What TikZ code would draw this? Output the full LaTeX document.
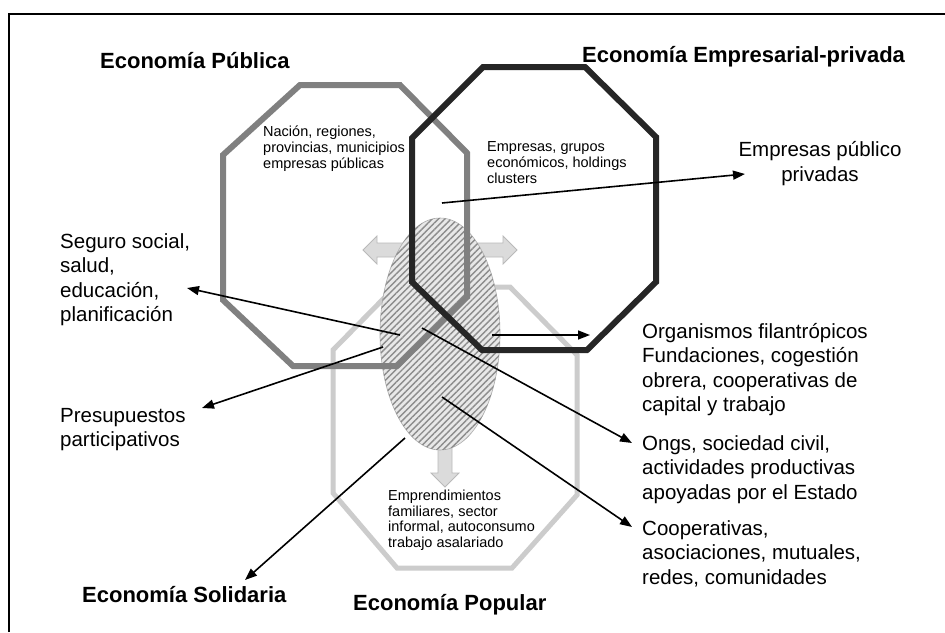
\documentclass[tikz,border=0pt]{standalone}
\usepackage{fontspec}
\setmainfont{Liberation Sans}
\usetikzlibrary{shapes.geometric,arrows.meta,patterns.meta}
\begin{document}
\begin{tikzpicture}[x=1pt,y=-1pt,
  lbl/.style={anchor=north west, inner sep=0pt, align=left, font=\fontsize{20.5}{24.5}\selectfont},
  small/.style={anchor=north west, inner sep=0pt, align=left, font=\fontsize{14.5}{15.8}\selectfont},
  title/.style={anchor=base west, inner sep=0pt, font=\fontsize{22}{26}\selectfont\bfseries},
  conn/.style={line width=1.6pt, -{Triangle[length=12pt,width=9pt]}},
  blockarrow/.style={fill=gray!28, draw=gray!55, line width=0.8pt, line join=miter},
  oct/.style={line join=miter, line width=6pt}
]
\useasboundingbox (0,0) rectangle (945,632);
\fill[white] (0,0) rectangle (945,632);
\draw[line width=2.5pt] (9,632) -- (9,14) -- (945,14);

% Economia Popular octagon (light)
\draw[oct, draw=gray!40, line width=5pt] (395,287) -- (510,287) -- (577,355) -- (577,495) -- (512,568) -- (397,568) -- (333,493) -- (333,350) -- cycle;

% block arrows
\draw[blockarrow] (405,243) -- (377,243) -- (377,236) -- (363,250) -- (377,264) -- (377,257) -- (405,257) -- cycle;
\draw[blockarrow] (475,243) -- (503,243) -- (503,236) -- (517,250) -- (503,264) -- (503,257) -- (475,257) -- cycle;
\draw[blockarrow] (438,440) -- (438,473) -- (431,473) -- (445,487) -- (459,473) -- (452,473) -- (452,440) -- cycle;

% hatched ellipse
\node[ellipse, minimum width=120pt, minimum height=232pt, inner sep=0pt, draw=gray!65, line width=0.6pt, fill=gray!18,
      postaction={pattern={Lines[angle=45,distance=4.5pt,line width=1.4pt]}, pattern color=gray!90}] (hub) at (440,334) {};

% Economia Publica octagon (gray)
\draw[oct, draw=black!50] (300,85) -- (400,85) -- (467,153) -- (467,297) -- (397,366) -- (293,366) -- (223,300) -- (223,155) -- cycle;
% Economia Empresarial-privada octagon (black)
\draw[oct, draw=black!85] (483,67) -- (585,67) -- (656,137) -- (656,282) -- (587,350) -- (482,350) -- (412,282) -- (412,138) -- cycle;

% titles
\node[title] (pub) at (100,68) {Economía Pública};
\node[title] (emp) at (582,62) {Economía Empresarial-privada};
\node[title] (sol) at (82,602) {Economía Solidaria};
\node[title] (popu) at (353,610) {Economía Popular};

% inner texts
\node[small] (nacion) at (263,126) {Nación, regiones,\\provincias, municipios\\empresas públicas};
\node[small] (grupos) at (487,141.5) {Empresas, grupos\\económicos, holdings\\clusters};
\node[small] (empre) at (388,489.5) {Emprendimientos\\familiares, sector\\informal, autoconsumo\\trabajo asalariado};

% outer labels
\node[lbl] (seguro) at (60,233) {Seguro social,\\salud,\\educación,\\planificación};
\node[lbl] (presu) at (60,408) {Presupuestos\\participativos};
\node[lbl, align=center, anchor=north] (epp) at (820,141.5) {Empresas público\\privadas};
\node[lbl] (organ) at (642,323) {Organismos filantrópicos\\Fundaciones, cogestión\\obrera, cooperativas de\\capital y trabajo};
\node[lbl] (ongs) at (642,435) {Ongs, sociedad civil,\\actividades productivas\\apoyadas por el Estado};
\node[lbl] (coop) at (642,520) {Cooperativas,\\asociaciones, mutuales,\\redes, comunidades};

% connector ends
\coordinate (tEP) at (442,203); \coordinate (hEP) at (745,174);
\coordinate (tSS) at (400,335); \coordinate (hSS) at (187,288);
\coordinate (tPP) at (383,347); \coordinate (hPP) at (202,408);
\coordinate (tOF) at (492,335); \coordinate (hOF) at (590,335);
\coordinate (tON) at (422,328); \coordinate (hON) at (632,443);
\coordinate (tCO) at (442,397); \coordinate (hCO) at (632,527);
\coordinate (tES) at (405,438); \coordinate (hES) at (245,580);

\draw[conn] (tEP) -- (hEP);
\draw[conn] (tSS) -- (hSS);
\draw[conn] (tPP) -- (hPP);
\draw[conn] (tOF) -- (hOF);
\draw[conn] (tON) -- (hON);
\draw[conn] (tCO) -- (hCO);
\draw[conn] (tES) -- (hES);
\end{tikzpicture}
\end{document}
